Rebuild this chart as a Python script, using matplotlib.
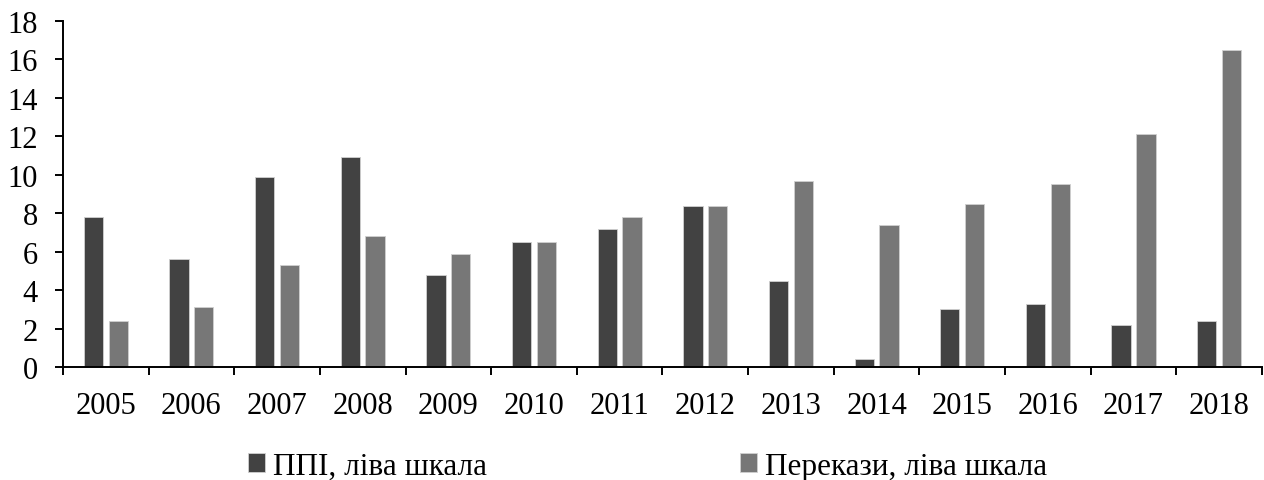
import numpy as np
import matplotlib
matplotlib.use("Agg")
import matplotlib.pyplot as plt

# ==================================================
# DATA
# ==================================================
years = ["2005", "2006", "2007", "2008", "2009", "2010", "2011",
         "2012", "2013", "2014", "2015", "2016", "2017", "2018"]
fdi = [7.8, 5.6, 9.9, 10.9, 4.8, 6.5, 7.2, 8.4, 4.5, 0.4, 3.0, 3.3, 2.2, 2.4]
remittances = [2.4, 3.1, 5.3, 6.8, 5.9, 6.5, 7.8, 8.4, 9.7, 7.4, 8.5, 9.5, 12.1, 16.5]
labels = ["ППІ, ліва шкала", "Перекази, ліва шкала"]
y_ticks = [0, 2, 4, 6, 8, 10, 12, 14, 16, 18]

# ==================================================
# STYLE
# ==================================================
plt.rcParams['font.family'] = ['Liberation Serif', 'DejaVu Serif']
DARK = "#424242"
LIGHT = "#777777"

fig = plt.figure(figsize=(12.64, 4.81), dpi=100)
ax = fig.add_axes([0.0498, 0.2349, 0.9486, 0.7194])

x = np.arange(len(years))
w = 0.225
off = 0.145
b1 = ax.bar(x - off, fdi, width=w, color=DARK, edgecolor="#d0d0d0",
            linewidth=0.6, label=labels[0])
b2 = ax.bar(x + off, remittances, width=w, color=LIGHT, edgecolor="#d0d0d0",
            linewidth=0.6, label=labels[1])

ax.set_xlim(-0.5, len(years) - 0.5)
ax.set_ylim(0, 18)
ax.set_yticks(y_ticks)
ax.set_xticks(x)
ax.set_xticklabels(years)
ax.set_xticks(np.arange(-0.5, len(years), 1.0), minor=True)

for s in ["top", "right"]:
    ax.spines[s].set_visible(False)
for s in ["left", "bottom"]:
    ax.spines[s].set_linewidth(1.4)
    ax.spines[s].set_color("black")

ax.tick_params(axis="y", direction="out", length=6, width=1.4, pad=12,
               labelsize=22)
ax.tick_params(axis="x", which="major", length=0, pad=17, labelsize=22)
ax.tick_params(axis="x", which="minor", direction="out", length=6, width=1.4)

fig.legend(handles=[b1, b2], labels=labels, loc="center",
           bbox_to_anchor=(0.512, 0.029), ncol=2, frameon=False,
           fontsize=22.5, handlelength=0.55, handleheight=0.55,
           handletextpad=0.25, columnspacing=8.1)

plt.savefig("out.png", dpi=100)
plt.close()
